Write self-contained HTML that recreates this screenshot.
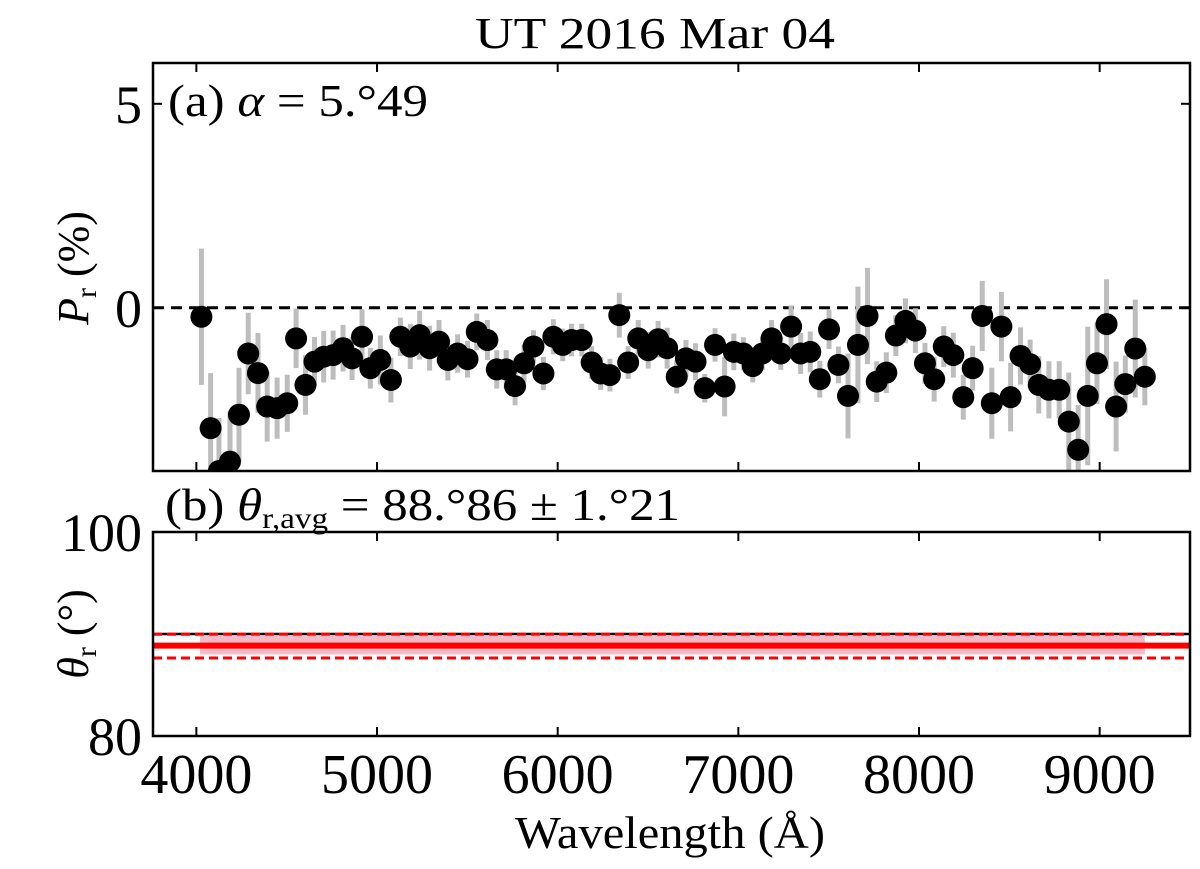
<!DOCTYPE html>
<html><head><meta charset="utf-8"><style>
html,body{margin:0;padding:0;background:#fff}
svg{display:block;font-family:"Liberation Serif",serif}
</style></head><body>
<svg id="chart" width="1200" height="869" viewBox="0 0 1200 869">
<defs>
<clipPath id="clipA"><rect x="153" y="63" width="1037" height="408"/></clipPath>
<clipPath id="clipB"><rect x="153" y="532" width="1037" height="204"/></clipPath>
</defs>
<text x="475" y="48" font-size="44" textLength="360" lengthAdjust="spacingAndGlyphs">UT 2016 Mar 04</text>
<g id="panelA"></g>
<g id="panelB"></g>
<text x="515" y="848" font-size="46" textLength="310" lengthAdjust="spacingAndGlyphs">Wavelength (Å)</text>
</svg>
<script>
const wavelengths=[4028,4079,4125,4186,4236,4287,4341,4392,4447,4503,4552,4604,4654,4705,4757,4812,4862,4917,4963,5018,5077,5129,5184,5236,5291,5343,5392,5446,5501,5552,5611,5663,5715,5764,5814,5866,5921,5976,6028,6077,6133,6188,6238,6289,6341,6390,6446,6501,6556,6606,6659,6710,6763,6814,6871,6924,6975,7028,7080,7133,7184,7235,7292,7345,7398,7451,7502,7554,7607,7662,7715,7766,7819,7872,7925,7980,8033,8084,8137,8190,8245,8297,8350,8403,8456,8507,8562,8615,8663,8719,8776,8829,8881,8934,8985,9038,9091,9142,9197,9250];
const polValues=[-0.22,-2.95,-4.0,-3.77,-2.62,-1.12,-1.6,-2.42,-2.46,-2.34,-0.75,-1.89,-1.32,-1.2,-1.16,-0.99,-1.24,-0.71,-1.48,-1.28,-1.77,-0.71,-0.95,-0.67,-0.99,-0.83,-1.28,-1.12,-1.26,-0.59,-0.79,-1.51,-1.51,-1.92,-1.36,-0.95,-1.61,-0.71,-0.91,-0.79,-0.79,-1.34,-1.61,-1.65,-0.18,-1.34,-0.75,-1.04,-0.77,-0.99,-1.69,-1.24,-1.32,-1.97,-0.91,-1.93,-1.08,-1.12,-1.43,-1.12,-0.75,-1.12,-0.46,-1.12,-1.08,-1.75,-0.53,-1.4,-2.16,-0.91,-0.2,-1.81,-1.59,-0.68,-0.32,-0.56,-1.36,-1.75,-0.95,-1.16,-2.19,-1.48,-0.2,-2.34,-0.46,-2.19,-1.18,-1.38,-1.89,-2.01,-2.01,-2.79,-3.48,-2.16,-1.36,-0.4,-2.42,-1.87,-1.0,-1.69];
const polErrors=[1.67,1.35,1.3,1.25,1.15,1.0,0.98,0.86,0.75,0.7,0.73,0.73,0.6,0.63,0.6,0.57,0.53,0.67,0.5,0.6,0.55,0.47,0.55,0.6,0.55,0.53,0.5,0.47,0.45,0.45,0.49,0.47,0.47,0.47,0.45,0.4,0.41,0.43,0.4,0.4,0.4,0.4,0.4,0.4,0.55,0.4,0.45,0.45,0.45,0.5,0.41,0.45,0.45,0.35,0.41,0.73,0.45,0.4,0.4,0.4,0.45,0.4,0.52,0.5,0.5,0.45,0.48,0.45,1.04,1.43,1.18,0.5,0.5,0.5,0.55,0.55,0.5,0.55,0.5,0.55,0.55,0.55,0.86,0.87,0.85,0.84,0.7,0.6,0.7,0.7,0.7,1.2,1.1,1.7,1.0,1.1,1.1,0.7,1.2,0.7];
const xTicks=[4000,5000,6000,7000,8000,9000];
const yTicksA=[0,5];
const yTicksB=[80,100];
const thetaAvg=88.86, thetaErr=1.21, thetaRef=90;
const thetaBandLo=88.0, thetaBandHi=89.8, bandStart=4020, bandEnd=9250;

const NS="http://www.w3.org/2000/svg";
const X0=153,X1=1190,XMIN=3760,XMAX=9500;
const AT=63,AB=471,AMIN=-4,AMAX=6;
const BT=532,BB=736,BMIN=80,BMAX=100;
const xs=v=>X0+(v-XMIN)/(XMAX-XMIN)*(X1-X0);
const ya=v=>AB-(v-AMIN)/(AMAX-AMIN)*(AB-AT);
const yb=v=>BB-(v-BMIN)/(BMAX-BMIN)*(BB-BT);
function mk(tag,attrs,parent){const e=document.createElementNS(NS,tag);for(const k in attrs)e.setAttribute(k,attrs[k]);parent.appendChild(e);return e;}
const A=document.getElementById('panelA'),B=document.getElementById('panelB');

// Panel A
let z=mk('line',{x1:X0,x2:X1,y1:ya(0),y2:ya(0),stroke:'#000','stroke-width':3,'stroke-dasharray':'11,7'},A);


const gA=mk('g',{'clip-path':'url(#clipA)'},A);
wavelengths.forEach((w,i)=>{
  const eb=mk('line',{x1:xs(w),x2:xs(w),y1:ya(polValues[i]+polErrors[i]),y2:ya(polValues[i]-polErrors[i]),stroke:'#bdbdbd','stroke-width':5},gA);
  
  
});
wavelengths.forEach((w,i)=>{
  const c=mk('circle',{cx:xs(w),cy:ya(polValues[i]),r:11,fill:'#000'},gA);
  
  
});
let fa=mk('rect',{x:X0,y:AT,width:X1-X0,height:AB-AT,fill:'none',stroke:'#000','stroke-width':2.5},A);


xTicks.forEach(t=>{
  mk('line',{x1:xs(t),x2:xs(t),y1:AT,y2:AT+9,stroke:'#000','stroke-width':2},A);
  mk('line',{x1:xs(t),x2:xs(t),y1:AB,y2:AB-9,stroke:'#000','stroke-width':2},A);
});
yTicksA.forEach(t=>{
  mk('line',{x1:X0,x2:X0+9,y1:ya(t),y2:ya(t),stroke:'#000','stroke-width':2},A);
  mk('line',{x1:X1,x2:X1-9,y1:ya(t),y2:ya(t),stroke:'#000','stroke-width':2},A);
  const l=mk('text',{x:142,y:ya(t)+19,'font-size':54,'text-anchor':'end'},A);
  l.textContent=t;
  
  
});
let la=mk('text',{x:168,y:116,'font-size':46,textLength:260,lengthAdjust:'spacingAndGlyphs'},A);
la.innerHTML='(a) <tspan font-style="italic">α</tspan> = 5.°49';


let yla=mk('text',{x:0,y:0,'font-size':44,transform:'translate(88,268) rotate(-90)','text-anchor':'middle'},A);
yla.innerHTML='<tspan font-style="italic">P</tspan><tspan font-size="30" dy="8">r</tspan><tspan dy="-8"> (%)</tspan>';



// Panel B
const gB=mk('g',{'clip-path':'url(#clipB)'},B);
let band=mk('rect',{x:xs(bandStart),y:yb(thetaBandHi),width:xs(bandEnd)-xs(bandStart),height:yb(thetaBandLo)-yb(thetaBandHi),fill:'#f4aab8',opacity:0.8},gB);


let ref=mk('line',{x1:X0,x2:X1,y1:yb(thetaRef),y2:yb(thetaRef),stroke:'#000','stroke-width':2.5},gB);


let up=mk('line',{x1:X0,x2:X1,y1:yb(thetaAvg+thetaErr)+1,y2:yb(thetaAvg+thetaErr)+1,stroke:'#ff0000','stroke-width':3,'stroke-dasharray':'9,5'},gB);


let lo=mk('line',{x1:X0,x2:X1,y1:yb(thetaAvg-thetaErr),y2:yb(thetaAvg-thetaErr),stroke:'#ff0000','stroke-width':3,'stroke-dasharray':'9,5'},gB);


let avg=mk('line',{x1:X0,x2:X1,y1:yb(thetaAvg),y2:yb(thetaAvg),stroke:'#ff0000','stroke-width':6},gB);


let fb=mk('rect',{x:X0,y:BT,width:X1-X0,height:BB-BT,fill:'none',stroke:'#000','stroke-width':2.5},B);


xTicks.forEach(t=>{
  mk('line',{x1:xs(t),x2:xs(t),y1:BT,y2:BT+9,stroke:'#000','stroke-width':2},B);
  mk('line',{x1:xs(t),x2:xs(t),y1:BB,y2:BB-9,stroke:'#000','stroke-width':2},B);
  const l=mk('text',{x:xs(t),y:793,'font-size':56,'text-anchor':'middle'},B);
  l.textContent=t;
  
  
});
yTicksB.forEach(t=>{
  const l=mk('text',{x:142,y:yb(t)+19,'font-size':54,'text-anchor':'end'},B);
  l.textContent=t;
  
  
});
let lb=mk('text',{x:165,y:520,'font-size':46,textLength:515,lengthAdjust:'spacingAndGlyphs'},B);
lb.innerHTML='(b) <tspan font-style="italic">θ</tspan><tspan font-size="30" dy="8">r,avg</tspan><tspan dy="-8"> = 88.°86 ± 1.°21</tspan>';


let ylb=mk('text',{x:0,y:0,'font-size':44,transform:'translate(88,634) rotate(-90)','text-anchor':'middle'},B);
ylb.innerHTML='<tspan font-style="italic">θ</tspan><tspan font-size="30" dy="8">r</tspan><tspan dy="-8"> (°)</tspan>';


</script>
</body></html>
